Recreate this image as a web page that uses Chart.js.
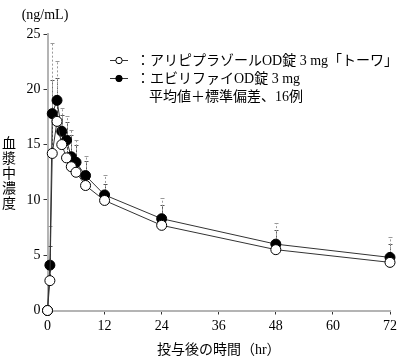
<!DOCTYPE html>
<html>
<head>
<meta charset="utf-8">
<script src="https://cdn.jsdelivr.net/npm/chart.js@4.4.0/dist/chart.umd.min.js"></script>
<style>
  html, body { margin: 0; padding: 0; background: #fff; }
  #wrap { width: 400px; height: 362px; }
</style>
</head>
<body>
<div id="wrap"><canvas id="pkChart"></canvas></div>
<script>
// sampling times (hr)
var hours = [0, 0.5, 1, 2, 3, 4, 5, 6, 8, 12, 24, 48, 72];

// アリピプラゾールOD錠 3mg「トーワ」 mean / SD
var towaMean = [0, 2.7, 14.2, 17.1, 15.0, 13.8, 13.0, 12.5, 11.3, 9.95, 7.7, 5.5, 4.35];
var towaSD   = [0, 3.1, 6.6, 3.9, 2.7, 3.2, 2.9, 2.5, 2.2, 1.45, 1.8, 1.75, 1.7];

// エビリファイOD錠 3mg mean / SD
var abilifyMean = [0, 4.1, 17.8, 19.0, 16.2, 15.4, 13.9, 13.4, 12.2, 10.45, 8.3, 6.0, 4.8];
var abilifySD   = [0, 3.5, 6.4, 3.6, 2.1, 2.2, 2.4, 2.0, 1.8, 1.8, 1.85, 1.9, 1.85];

var xTicks = [0, 12, 24, 36, 48, 60, 72];
var yTicks = [0, 5, 10, 15, 20, 25];

var seriesLabels = ["：アリピプラゾールOD錠 3 mg「トーワ」", "：エビリファイOD錠 3 mg"];
var noteText = "平均値＋標準偏差、16例";
var yTitle = "血漿中濃度";
var unitText = "(ng/mL)";
var xTitle = "投与後の時間（hr）";

var FONT = "'Liberation Serif', 'Noto Sans CJK JP', serif";

function toPoints(xs, ys) {
  return xs.map(function (x, i) { return { x: x, y: ys[i] }; });
}

// +SD error bars, drawn under the points
var errorBars = {
  id: "errorBars",
  beforeDatasetsDraw: function (chart) {
    var ctx = chart.ctx;
    var xs = chart.scales.x, ys = chart.scales.y;
    chart.data.datasets.forEach(function (ds) {
      ctx.save();
      ctx.strokeStyle = ds.errorColor;
      ctx.lineWidth = 1;
      ds.data.forEach(function (p, i) {
        var sd = ds.sd[i];
        if (!sd) return;
        var px = Math.round(xs.getPixelForValue(p.x)) + 0.5;
        var y0 = ys.getPixelForValue(p.y);
        var y1 = Math.round(ys.getPixelForValue(p.y + sd)) + 0.5;
        ctx.setLineDash(ds.errorDash);
        ctx.beginPath();
        ctx.moveTo(px, y0);
        ctx.lineTo(px, y1);
        ctx.stroke();
        ctx.setLineDash([]);
        ctx.beginPath();
        ctx.moveTo(px - 2, y1);
        ctx.lineTo(px + 2, y1);
        ctx.stroke();
      });
      ctx.restore();
    });
  }
};

// legend, unit label and stacked vertical y title
var annotations = {
  id: "annotations",
  afterDraw: function (chart) {
    var ctx = chart.ctx;
    ctx.save();
    ctx.fillStyle = "#000";
    ctx.textBaseline = "middle";

    ctx.font = "14px " + FONT;
    ctx.textAlign = "center";
    ctx.fillText(unitText, 45, 15);

    ctx.font = "14px " + FONT;
    var chars = yTitle.split("");
    chars.forEach(function (c, i) {
      ctx.fillText(c, 9, 144 + i * 15);
    });

    ctx.textAlign = "left";
    chart.data.datasets.forEach(function (ds, i) {
      var y = 60 + i * 18;
      ctx.strokeStyle = "#333";
      ctx.lineWidth = 1;
      ctx.beginPath();
      ctx.moveTo(110, y + 0.5);
      ctx.lineTo(128, y + 0.5);
      ctx.stroke();
      ctx.beginPath();
      ctx.arc(119, y + 0.5, 3.2, 0, Math.PI * 2);
      ctx.fillStyle = ds.pointBackgroundColor;
      ctx.fill();
      ctx.strokeStyle = "#000";
      ctx.stroke();
      ctx.fillStyle = "#000";
      ctx.font = "14px " + FONT;
      ctx.fillText(seriesLabels[i], 136, y + 1);
    });
    ctx.fillText(noteText, 149, 97);
    ctx.restore();
  }
};

var ctx = document.getElementById("pkChart").getContext("2d");

var pkChart = new Chart(ctx, {
  type: "line",
  data: {
    datasets: [
      {
        label: seriesLabels[0],
        data: toPoints(hours, towaMean),
        sd: towaSD,
        errorColor: "#555",
        errorDash: [3, 1],
        borderColor: "#333",
        borderWidth: 1,
        pointBackgroundColor: "#fff",
        pointBorderColor: "#000",
        pointBorderWidth: 1,
        pointRadius: 5,
        tension: 0,
        clip: false
      },
      {
        label: seriesLabels[1],
        data: toPoints(hours, abilifyMean),
        sd: abilifySD,
        errorColor: "#999",
        errorDash: [2, 2],
        borderColor: "#333",
        borderWidth: 1,
        pointBackgroundColor: "#000",
        pointBorderColor: "#000",
        pointBorderWidth: 1,
        pointRadius: 5,
        tension: 0,
        clip: false
      }
    ]
  },
  options: {
    responsive: true,
    maintainAspectRatio: false,
    animation: false,
    devicePixelRatio: 1,
    layout: { padding: { top: 34, right: 9, left: 0, bottom: 0 } },
    plugins: {
      legend: { display: false },
      tooltip: { enabled: false }
    },
    scales: {
      x: {
        type: "linear",
        min: 0,
        max: 72,
        afterBuildTicks: function (scale) {
          scale.ticks = xTicks.map(function (v) { return { value: v }; });
        },
        afterFit: function (scale) { scale.height = 51.5; },
        ticks: { font: { family: FONT, size: 14 }, color: "#000", padding: 3, maxRotation: 0 },
        grid: { drawOnChartArea: false, tickLength: 4, tickColor: "#333" },
        border: { color: "#b4b4b4", width: 2 },
        title: {
          display: true,
          text: xTitle,
          font: { family: FONT, size: 14 },
          color: "#000",
          padding: { top: 2, bottom: 3 }
        }
      },
      y: {
        min: 0,
        max: 25,
        afterBuildTicks: function (scale) {
          scale.ticks = yTicks.map(function (v) { return { value: v }; });
        },
        afterFit: function (scale) { scale.width = 47.5; },
        ticks: { font: { family: FONT, size: 14 }, color: "#000", padding: 3 },
        grid: { drawOnChartArea: false, tickLength: 4, tickColor: "#333" },
        border: { color: "#b4b4b4", width: 2 }
      }
    }
  },
  plugins: [errorBars, annotations]
});
</script>
</body>
</html>
